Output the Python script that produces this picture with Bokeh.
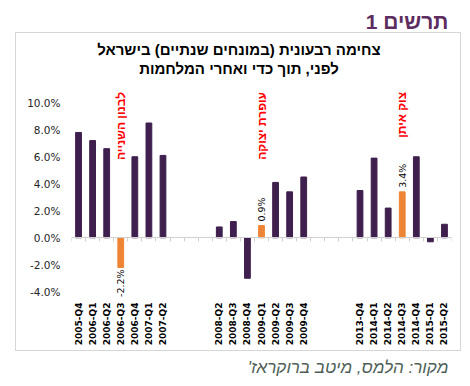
import math
import numpy as np
from bokeh.plotting import figure
from bokeh.layouts import column
from bokeh.models import (ColumnDataSource, Range1d, LinearAxis, FixedTicker,
                          PrintfTickFormatter)
from bokeh.core.properties import value
from bokeh.embed import file_html
from bokeh.resources import INLINE

# ---------------- data ----------------
quarters = ["2005-Q4", "2006-Q1", "2006-Q2", "2006-Q3", "2006-Q4", "2007-Q1", "2007-Q2",
            "", "", "",
            "2008-Q2", "2008-Q3", "2008-Q4", "2009-Q1", "2009-Q2", "2009-Q3", "2009-Q4",
            "", "", "",
            "2013-Q4", "2014-Q1", "2014-Q2", "2014-Q3", "2014-Q4", "2015-Q1", "2015-Q2"]
growth = [7.8, 7.2, 6.6, -2.2, 6.0, 8.5, 6.1,
          None, None, None,
          0.8, 1.2, -3.0, 0.9, 4.1, 3.4, 4.5,
          None, None, None,
          3.5, 5.9, 2.2, 3.4, 6.0, -0.3, 1.0]
war_quarters = ["2006-Q3", "2009-Q1", "2014-Q3"]
war_names = ["לבנון השנייה", "עופרת יצוקה", "צוק איתן"]
y_ticks = [-4, -2, 0, 2, 4, 6, 8, 10]

title_tag = "תרשים 1"
title_lines = ["צחימה רבעונית (במונחים שנתיים) בישראל", "לפני, תוך כדי ואחרי המלחמות"]
source_text = "מקור: הלמס, מיטב ברוקראז'\u200f"

PURPLE = "#3f1f4d"
ORANGE = "#ee8435"
HEB = value("Liberation Sans")

# ---------------- derived ----------------
xs = list(range(len(quarters)))
vals = [np.nan if v is None else v for v in growth]
colors = [ORANGE if q in war_quarters else PURPLE for q in quarters]
bars = ColumnDataSource(dict(x=xs, top=vals, color=colors))

war_x = [quarters.index(q) for q in war_quarters]
war_v = [growth[i] for i in war_x]
pos = ColumnDataSource(dict(x=[x for x, v in zip(war_x, war_v) if v >= 0],
                            y=[v for v in war_v if v >= 0],
                            t=["%.1f%%" % v for v in war_v if v >= 0]))
neg = ColumnDataSource(dict(x=[x for x, v in zip(war_x, war_v) if v < 0],
                            y=[v for v in war_v if v < 0],
                            t=["%.1f%%" % v for v in war_v if v < 0]))
wars = ColumnDataSource(dict(x=war_x, y=[10.8] * len(war_x), t=war_names))


def blank_fig(w, h):
    f = figure(width=w, height=h, x_range=Range1d(0, w), y_range=Range1d(0, h),
               output_backend="svg", toolbar_location=None, title=None,
               x_axis_type=None, y_axis_type=None, min_border=0)
    f.outline_line_color = None
    f.xgrid.visible = False
    f.ygrid.visible = False
    return f


# ---------------- header ----------------
head = blank_fig(470, 32)
head.text(x=[457], y=[11], text=[title_tag], text_align="right", text_baseline="alphabetic",
          text_font=HEB, text_font_style="bold", text_font_size="21px", text_color="#5c2d5e")

# ---------------- main chart (inside box) ----------------
p = figure(frame_width=378, frame_height=267,
           min_border_left=55, min_border_right=11, min_border_top=0, min_border_bottom=50,
           x_range=Range1d(-0.5, len(quarters) - 0.5), y_range=Range1d(-4.795, 15.13),
           output_backend="svg", toolbar_location=None, title=None,
           x_axis_type=None, y_axis_type=None)
p.outline_line_color = None
p.xgrid.visible = False
p.ygrid.visible = False
p.margin = (0, 0, 0, 15)
p.styles = {"border": "1px solid #d6d6d6"}

p.vbar(x="x", top="top", bottom=0, width=0.41, color="color", source=bars)

yax = LinearAxis(ticker=FixedTicker(ticks=y_ticks),
                 formatter=PrintfTickFormatter(format="%.1f%%"))
yax.axis_line_color = None
yax.major_tick_line_color = None
yax.major_tick_out = 0
yax.major_tick_in = 0
yax.minor_tick_line_color = None
yax.major_label_standoff = 11
yax.major_label_text_font = "DejaVu Sans"
yax.major_label_text_font_size = "10.5px"
yax.major_label_text_color = "#262626"
p.add_layout(yax, "left")

lab_ticks = [i for i, q in enumerate(quarters) if q]
xax = LinearAxis(ticker=FixedTicker(ticks=lab_ticks),
                 major_label_overrides={i: quarters[i] for i in lab_ticks})
xax.axis_line_color = None
xax.major_tick_line_color = None
xax.major_tick_out = 0
xax.major_tick_in = 0
xax.minor_tick_line_color = None
xax.major_label_orientation = math.pi / 2
xax.major_label_standoff = 0
xax.major_label_text_font = "DejaVu Sans"
xax.major_label_text_font_style = "bold"
xax.major_label_text_font_size = "9px"
xax.major_label_text_color = "black"
p.add_layout(xax, "below")

bounds = [i - 0.5 for i in range(len(quarters) + 1)]
zax = LinearAxis(fixed_location=0, ticker=FixedTicker(ticks=bounds),
                 major_label_overrides={b: "" for b in bounds})
zax.axis_line_color = "#d0d0d0"
zax.major_tick_line_color = "#d0d0d0"
zax.major_tick_out = 4
zax.major_tick_in = 0
zax.minor_tick_line_color = None
zax.major_label_standoff = 0
zax.major_label_text_font_size = "1px"
p.add_layout(zax, "below")

# value labels on war-quarter bars
p.text(x="x", y="y", text="t", source=pos, angle=math.pi / 2, text_align="left",
       text_baseline="middle", y_offset=-4, text_font=value("DejaVu Sans"),
       text_font_size="9.5px", text_color="black")
p.text(x="x", y="y", text="t", source=neg, angle=math.pi / 2, text_align="right",
       text_baseline="middle", y_offset=2, text_font=value("DejaVu Sans"),
       text_font_size="9.5px", text_color="black")

# war names
p.text(x="x", y="y", text="t", source=wars, angle=math.pi / 2, text_align="right",
       text_baseline="middle", text_font=HEB,
       text_font_style="bold", text_font_size="12px", text_color="#ff0000")

# chart title (two lines, inside the box)
p.text(x=[11.4, 11.4], y=[13.97, 12.55], text=title_lines, text_align="center",
       text_baseline="alphabetic", text_font=HEB, text_font_style="bold",
       text_font_size="15px", text_color="black")

# ---------------- footer ----------------
foot = blank_fig(470, 33)
foot.text(x=[457], y=[17], text=[source_text], text_align="right", text_baseline="alphabetic",
          text_font=HEB, text_font_style="italic", text_font_size="17px", text_color="#4e5f57")

layout = column(head, p, foot, spacing=0)
open("out.html", "w").write(file_html(layout, INLINE))
